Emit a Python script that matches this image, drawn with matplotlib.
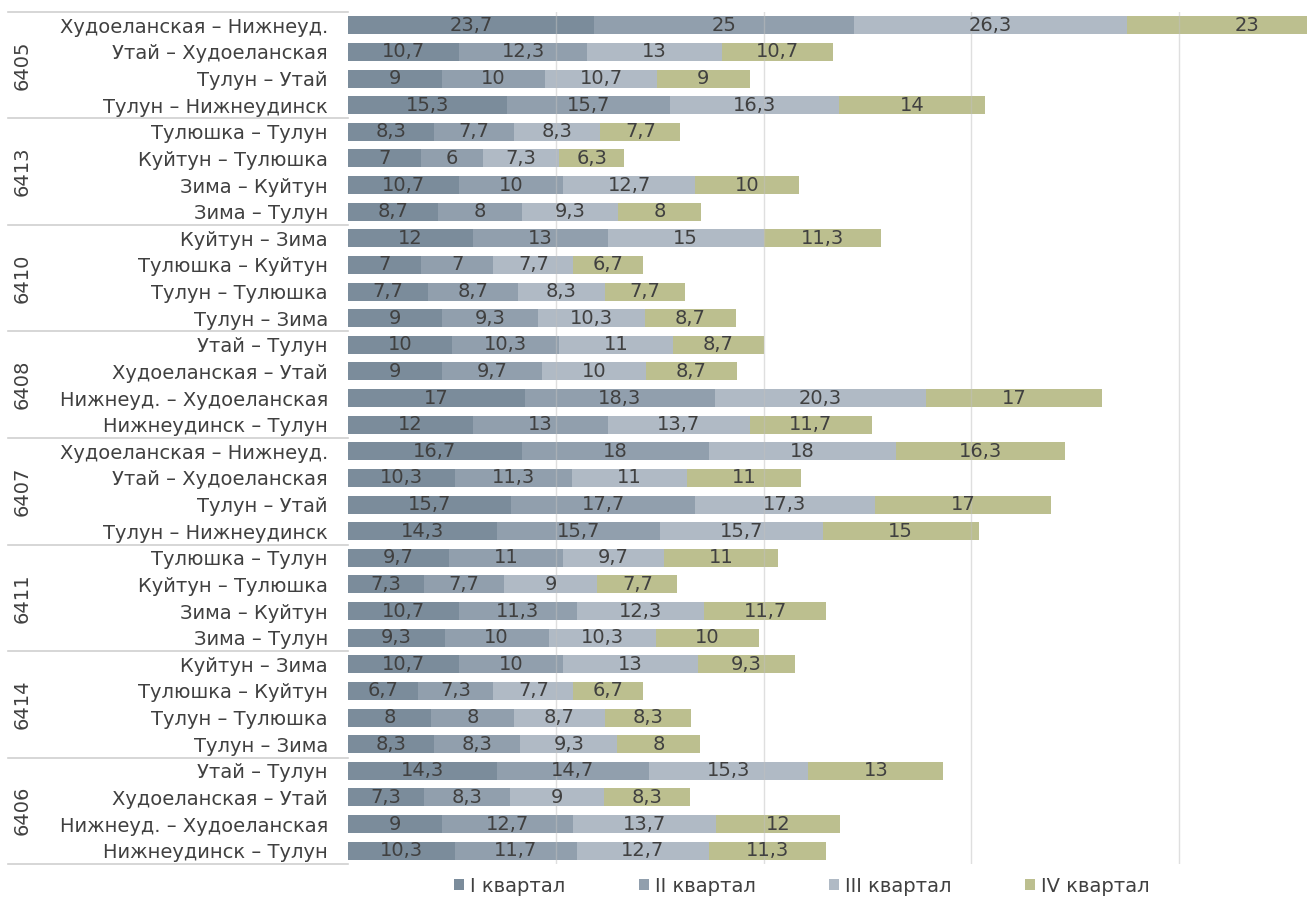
import matplotlib
matplotlib.use("Agg")
import matplotlib.pyplot as plt
import matplotlib.transforms as mtransforms
import numpy as np

plt.rcParams['font.family'] = ['DejaVu Sans']

groups = ["6405", "6413", "6410", "6408", "6407", "6411", "6414", "6406"]

routes = [
    "Худоеланская – Нижнеуд.", "Утай – Худоеланская", "Тулун – Утай", "Тулун – Нижнеудинск",
    "Тулюшка – Тулун", "Куйтун – Тулюшка", "Зима – Куйтун", "Зима – Тулун",
    "Куйтун – Зима", "Тулюшка – Куйтун", "Тулун – Тулюшка", "Тулун – Зима",
    "Утай – Тулун", "Худоеланская – Утай", "Нижнеуд. – Худоеланская", "Нижнеудинск – Тулун",
    "Худоеланская – Нижнеуд.", "Утай – Худоеланская", "Тулун – Утай", "Тулун – Нижнеудинск",
    "Тулюшка – Тулун", "Куйтун – Тулюшка", "Зима – Куйтун", "Зима – Тулун",
    "Куйтун – Зима", "Тулюшка – Куйтун", "Тулун – Тулюшка", "Тулун – Зима",
    "Утай – Тулун", "Худоеланская – Утай", "Нижнеуд. – Худоеланская", "Нижнеудинск – Тулун",
]

q1 = [23.7, 10.7, 9, 15.3, 8.3, 7, 10.7, 8.7, 12, 7, 7.7, 9, 10, 9, 17, 12,
      16.7, 10.3, 15.7, 14.3, 9.7, 7.3, 10.7, 9.3, 10.7, 6.7, 8, 8.3, 14.3, 7.3, 9, 10.3]
q2 = [25, 12.3, 10, 15.7, 7.7, 6, 10, 8, 13, 7, 8.7, 9.3, 10.3, 9.7, 18.3, 13,
      18, 11.3, 17.7, 15.7, 11, 7.7, 11.3, 10, 10, 7.3, 8, 8.3, 14.7, 8.3, 12.7, 11.7]
q3 = [26.3, 13, 10.7, 16.3, 8.3, 7.3, 12.7, 9.3, 15, 7.7, 8.3, 10.3, 11, 10, 20.3, 13.7,
      18, 11, 17.3, 15.7, 9.7, 9, 12.3, 10.3, 13, 7.7, 8.7, 9.3, 15.3, 9, 13.7, 12.7]
q4 = [23, 10.7, 9, 14, 7.7, 6.3, 10, 8, 11.3, 6.7, 7.7, 8.7, 8.7, 8.7, 17, 11.7,
      16.3, 11, 17, 15, 11, 7.7, 11.7, 10, 9.3, 6.7, 8.3, 8, 13, 8.3, 12, 11.3]

series_names = ["I квартал", "II квартал", "III квартал", "IV квартал"]
colors = ["#7B8C9B", "#919FAD", "#B0BAC5", "#BCBF8F"]

FS = 14
W, H = 1307, 897
fig = plt.figure(figsize=(W / 100, H / 100), dpi=100)
ax = fig.add_axes([348 / W, 1 - 864 / H, 1 - 348 / W, (864 - 12) / H])

n = len(routes)
y = np.arange(n)
left = np.zeros(n)
for vals, name, col in zip([q1, q2, q3, q4], series_names, colors):
    vals = np.array(vals, dtype=float)
    ax.barh(y, vals, left=left, height=0.68, color=col, label=name, zorder=2)
    for yi, l, v in zip(y, left, vals):
        ax.text(l + v / 2, yi, f"{v:g}".replace(".", ","), ha="center", va="center",
                fontsize=FS, color="#404040", zorder=4, clip_on=True)
    left += vals

ax.set_xlim(0, 92.3)
ax.set_ylim(n - 0.5, -0.5)
ax.set_xticks([20, 40, 60, 80])
ax.grid(axis="x", color="#C0C0C0", alpha=0.5, linewidth=1, zorder=3)
ax.set_axisbelow(False)
ax.tick_params(axis="x", length=0, labelbottom=False)
ax.set_yticks(y)
ax.set_yticklabels(routes, fontsize=FS, color="#404040")
ax.tick_params(axis="y", length=0, pad=14.5)
for s in ax.spines.values():
    s.set_visible(False)

# group separators and labels
trans = mtransforms.blended_transform_factory(ax.transAxes, ax.transData)
x0 = (8 - 348) / (W - 348)
for k in range(len(groups) + 1):
    yy = k * 4 - 0.5
    ax.plot([x0, 0], [yy, yy], color="#D0D0D0", linewidth=1.2, transform=trans, clip_on=False)
gx = (22 - 348) / (W - 348)
for k, g in enumerate(groups):
    ax.text(gx, k * 4 + 1.5, g, rotation=90, ha="center", va="center", fontsize=FS,
            color="#404040", transform=trans, clip_on=False)

fig.legend(loc="center", bbox_to_anchor=(802 / W, 1 - 886 / H), ncol=4, frameon=False,
           fontsize=FS, handlelength=0.5, handleheight=0.5, handletextpad=0.3,
           columnspacing=3.8, labelcolor="#404040")

fig.savefig("out.png", dpi=100)
